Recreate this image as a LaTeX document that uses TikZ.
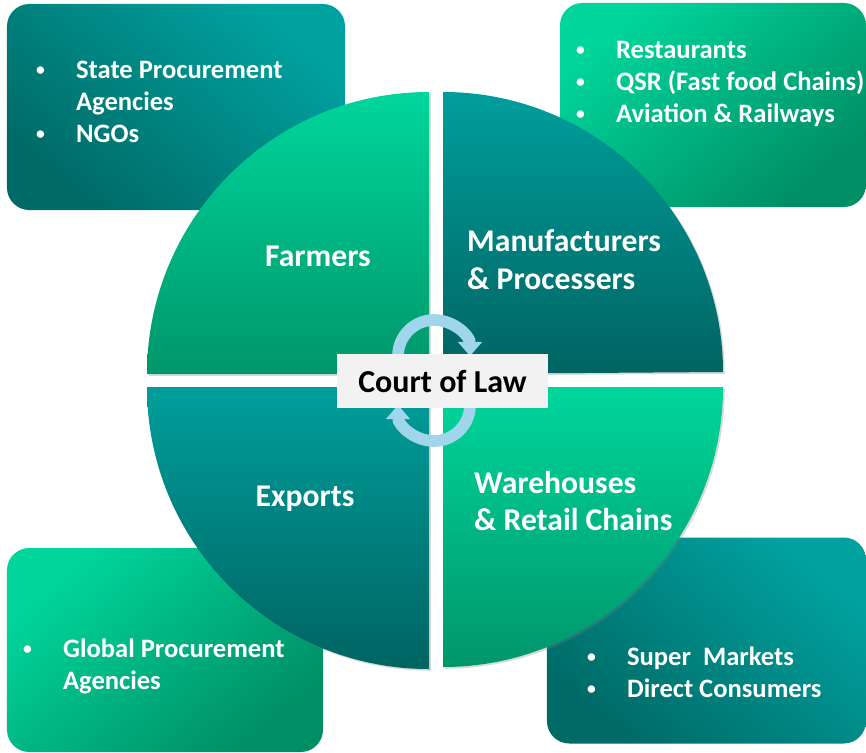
\documentclass[tikz,border=0pt]{standalone}
\usepackage{fontspec}
\setmainfont{Carlito}
\usetikzlibrary{arrows.meta,shadows,positioning}
\definecolor{tealtop}{RGB}{0,162,160}
\definecolor{tealbot}{RGB}{0,106,102}
\definecolor{greentop}{RGB}{0,214,156}
\definecolor{greenbot}{RGB}{0,142,100}
\definecolor{qgreenbot}{RGB}{0,150,106}
\definecolor{qtealtop}{RGB}{0,158,155}
\definecolor{qtealbot}{RGB}{0,100,98}
\definecolor{lawgrey}{RGB}{242,242,242}
\definecolor{loopblue}{RGB}{160,214,236}
\newcommand{\smallbul}{\raisebox{0.12em}{\fontsize{15}{15}\selectfont\textbullet}}

\begin{document}
\begin{tikzpicture}[x=0.03cm,y=-0.03cm]
\tikzstyle{tealbox}=[rounded corners=19pt,inner sep=0pt,
top color=tealtop,bottom color=tealbot,shading angle=-40]
\tikzstyle{greenbox}=[rounded corners=19pt,inner sep=0pt,
top color=greentop,bottom color=greenbot,shading angle=40]
\tikzstyle{greenq}=[top color=greentop,bottom color=qgreenbot,
drop shadow={opacity=0.3,shadow xshift=1.5pt,shadow yshift=-1.5pt}]
\tikzstyle{tealq}=[top color=qtealtop,bottom color=qtealbot,
drop shadow={opacity=0.3,shadow xshift=1.5pt,shadow yshift=-1.5pt}]
\tikzstyle{bul}=[text=white,inner sep=0pt,anchor=west,
font=\fontsize{22.7}{27.3}\selectfont\bfseries]
\tikzstyle{quad}=[text=white,inner sep=0pt,align=left,
font=\fontsize{27}{32.4}\selectfont\bfseries]
\tikzstyle{roundarrow}=[line width=10pt,draw=loopblue,
-{Triangle[width=20pt,length=12pt]}]

\clip (0,0) rectangle (866,752);

\node[tealbox,minimum width=10.14cm,minimum height=6.18cm] (boxnw) at (176,107) {};
\node[greenbox,minimum width=9.18cm,minimum height=6.12cm] (boxne) at (713,105) {};
\node[greenbox,minimum width=9.48cm,minimum height=6.12cm] (boxsw) at (165,650) {};
\node[tealbox,minimum width=9.57cm,minimum height=6.18cm] (boxse) at (706.5,640.5) {};

\node[bul] (listnw) at (36,104) {\begin{tabular}{@{}p{34pt}@{}l@{}}
\smallbul & State Procurement\\ & Agencies\\ \smallbul & NGOs\end{tabular}};
\node[bul] (listne) at (576,84.5) {\begin{tabular}{@{}p{34pt}@{}l@{}}
\smallbul & Restaurants\\ \smallbul & QSR (Fast food Chains)\\
\smallbul & Aviation \& Railways\end{tabular}};
\node[bul] (listsw) at (23,667) {\begin{tabular}{@{}p{34pt}@{}l@{}}
\smallbul & Global Procurement\\ & Agencies\end{tabular}};
\node[bul] (listse) at (587,675) {\begin{tabular}{@{}p{34pt}@{}l@{}}
\smallbul & Super\ \ Markets\\ \smallbul & Direct Consumers\end{tabular}};

\path[greenq] (429,374) -- (147,374) arc[start angle=180,end angle=270,radius=282] -- cycle;
\path[tealq] (443,374) -- (443,92) arc[start angle=270,end angle=360,radius=280] -- cycle;
\path[tealq] (429,387) -- (429,669) arc[start angle=90,end angle=180,radius=282] -- cycle;
\path[greenq] (443,387) -- (723,387) arc[start angle=0,end angle=90,radius=280] -- cycle;

\node[quad] (farm) at (318,256) {Farmers};
\node[quad,anchor=west] (manu) at (467,260) {Manufacturers\\\& Processers};
\node[quad] (expo) at (305,499) {Exports};
\node[quad,anchor=west] (ware) at (474,501) {Warehouses\\\& Retail Chains};

\draw[roundarrow] (398,356) arc[start angle=180,end angle=360,radius=36];
\draw[roundarrow] (470,405) arc[start angle=0,end angle=180,radius=36];

\node[fill=lawgrey,minimum width=6.33cm,minimum height=1.62cm,
font=\fontsize{27.3}{32.4}\selectfont\bfseries] (law) at (442.5,381) {Court of Law};
\end{tikzpicture}
\end{document}
